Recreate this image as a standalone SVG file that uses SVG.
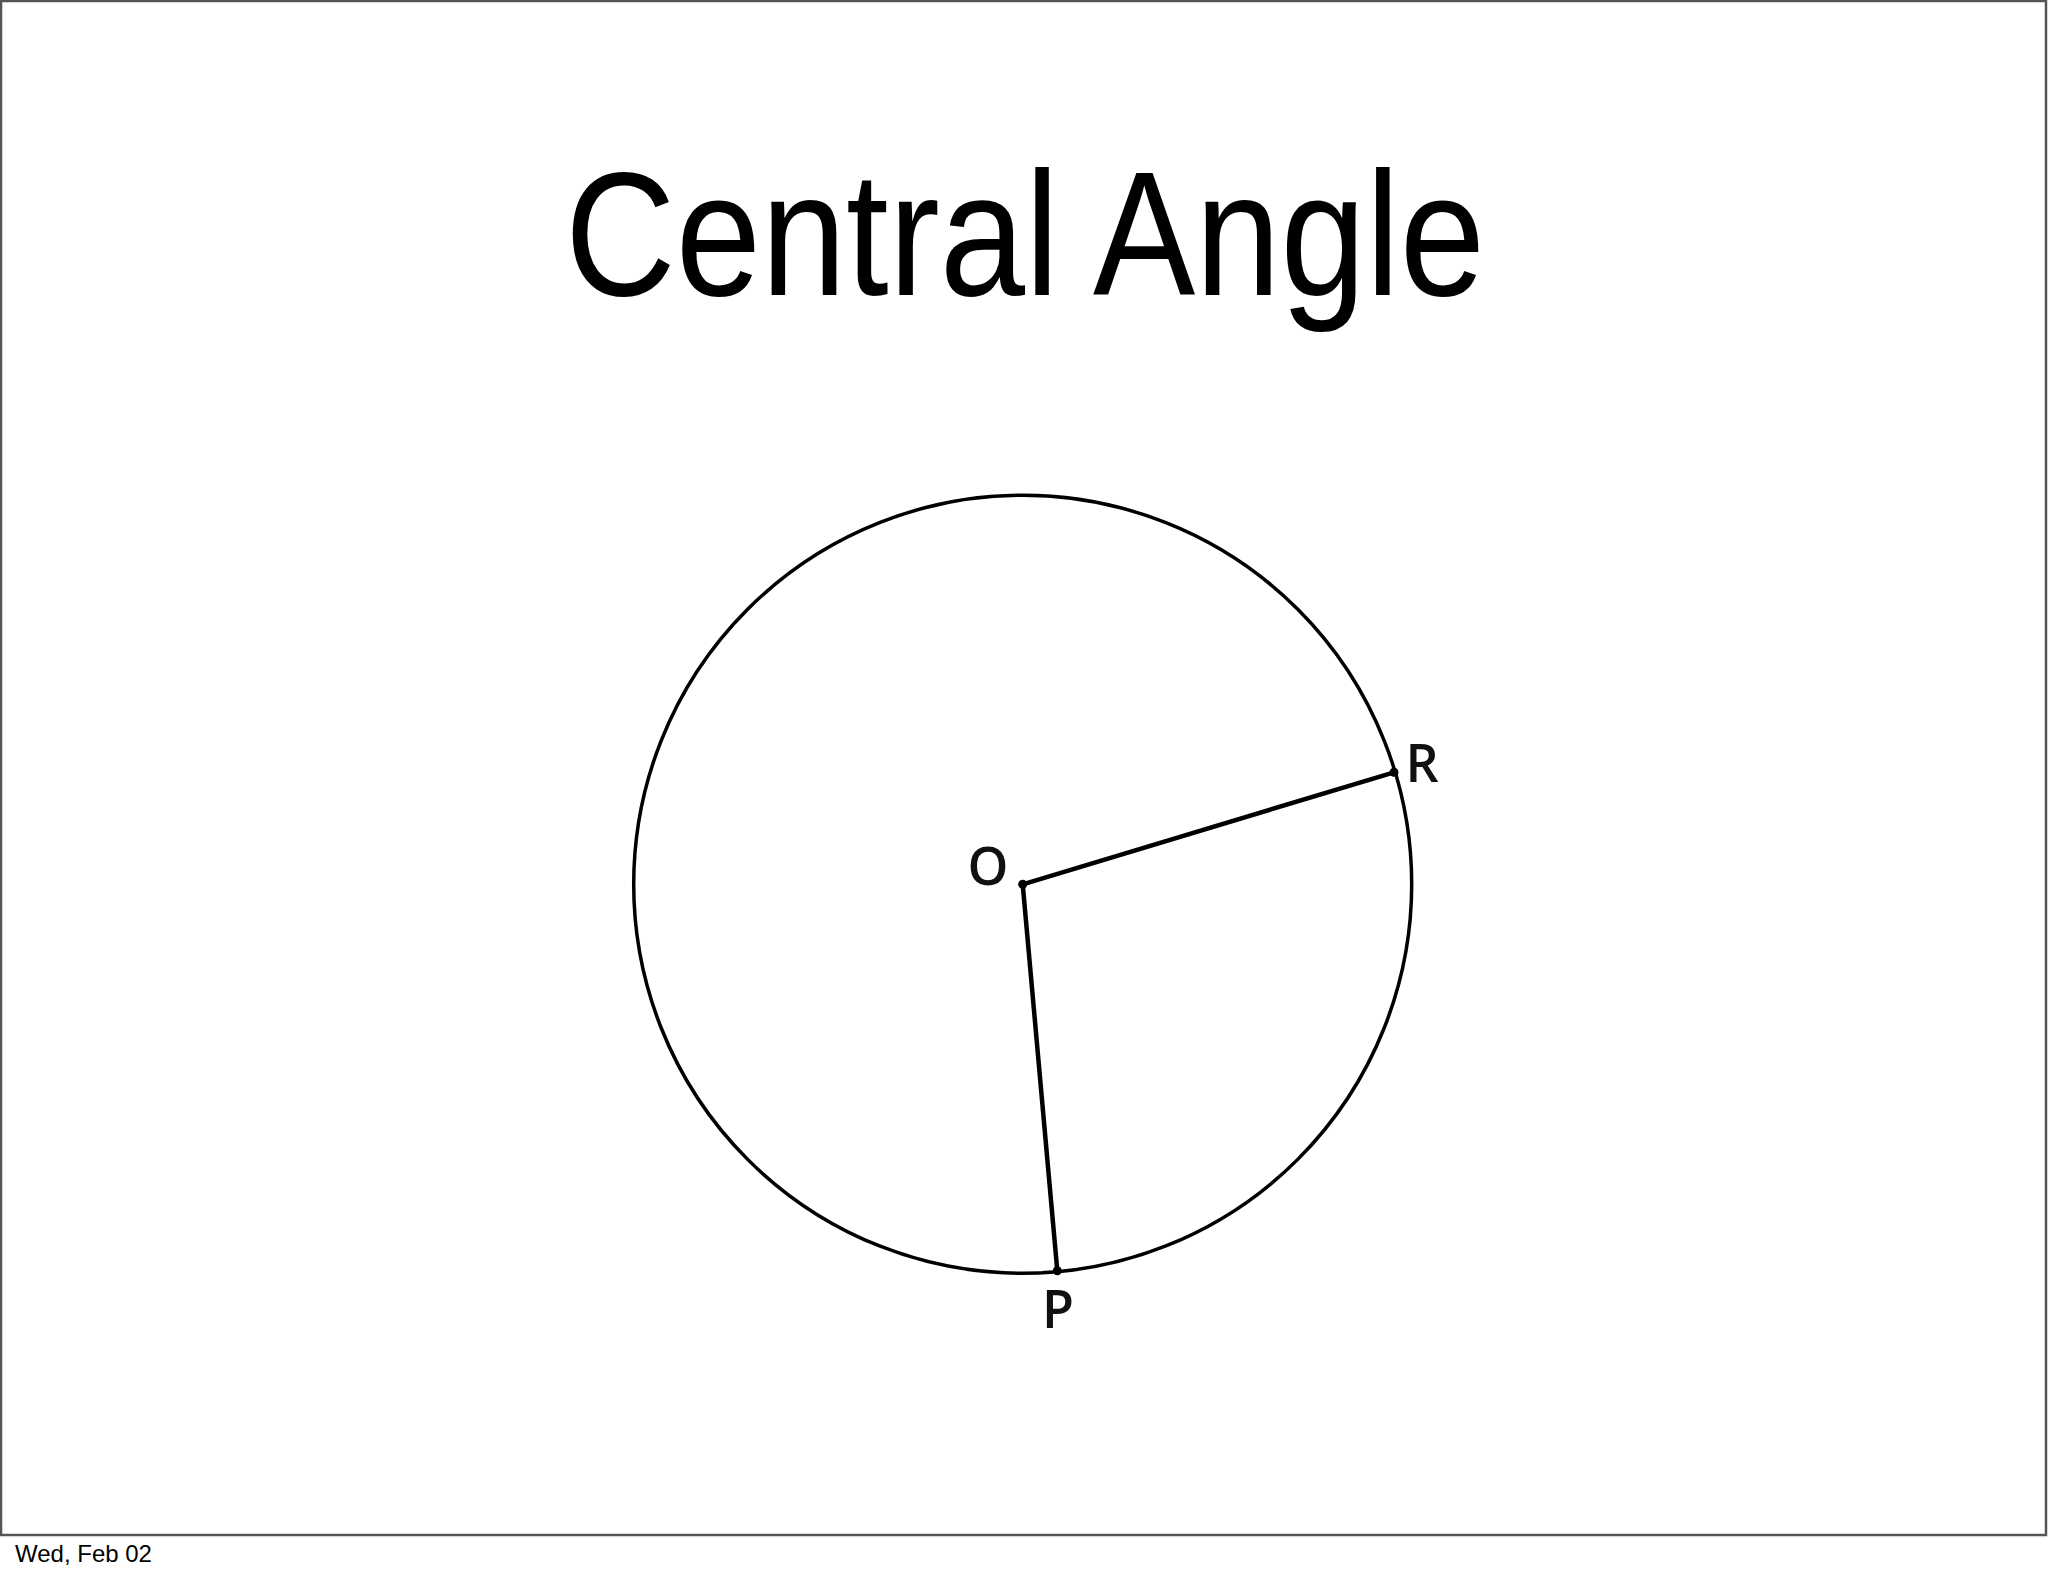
<svg xmlns="http://www.w3.org/2000/svg" width="2048" height="1576" viewBox="0 0 2048 1576">
<style>
.lbl{font-family:"Open Sans","Liberation Sans",sans-serif;font-size:52px;font-weight:600;fill:#111;}
.ln{stroke:#000;stroke-width:4.5;fill:none;stroke-linecap:round;}
</style>
<rect x="0" y="0" width="2048" height="1576" fill="#fff"/>
<rect x="1" y="1" width="2045" height="1534" fill="#fff" stroke="#555" stroke-width="2.5"/>
<text x="1025" y="295" text-anchor="middle" font-family="'Liberation Sans',sans-serif" font-size="176" textLength="920" lengthAdjust="spacingAndGlyphs" fill="#000">Central Angle</text>
<g id="circle"><circle cx="1022.7" cy="884.3" r="389" fill="none" stroke="#000" stroke-width="3.5"/></g>
<g id="connectors">
<line class="ln" x1="1022.7" y1="884.3" x2="1394" y2="772.3"/>
<line class="ln" x1="1022.7" y1="884.3" x2="1057.3" y2="1270.7"/>
</g>
<g id="O"><circle cx="1022.7" cy="884.3" r="4.5" fill="#000"/><text class="lbl" x="988" y="885" text-anchor="middle">O</text></g>
<g id="R"><circle cx="1394" cy="772.3" r="4.5" fill="#000"/><text class="lbl" x="1422" y="782" text-anchor="middle">R</text></g>
<g id="P"><circle cx="1057.3" cy="1270.7" r="4.5" fill="#000"/><text class="lbl" x="1058" y="1328" text-anchor="middle">P</text></g>
<text x="15" y="1562" font-family="'Liberation Sans',sans-serif" font-size="24" fill="#000">Wed, Feb 02</text>
</svg>
